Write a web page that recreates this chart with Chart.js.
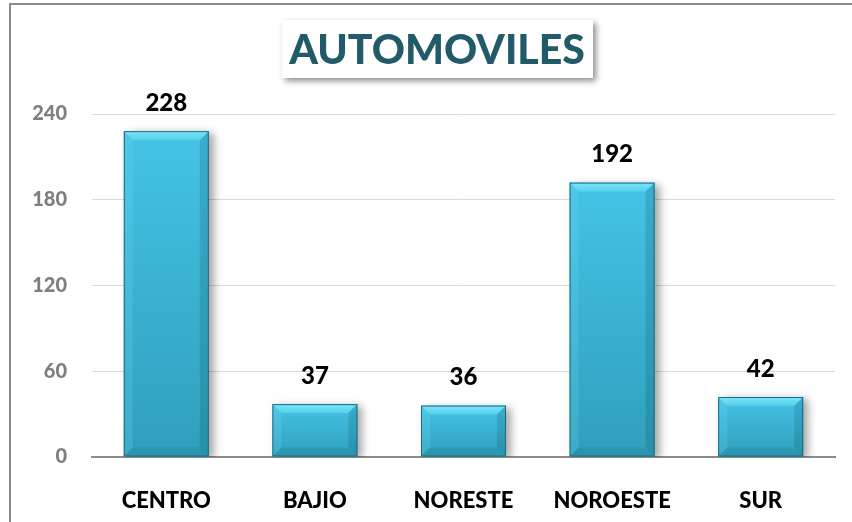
<!DOCTYPE html>
<html>
<head>
<meta charset="utf-8">
<script src="https://cdn.jsdelivr.net/npm/chart.js@4.4.1/dist/chart.umd.min.js"></script>
<style>
  html, body { margin: 0; padding: 0; background: #fff; }
  #wrap { position: relative; width: 852px; height: 522px; }
  #frame { position: absolute; left: 9px; top: 3px; right: 0; bottom: 0;
    border-left: 2px solid #8a8a8a; border-top: 2px solid #8a8a8a; pointer-events: none; }
</style>
</head>
<body>
<div id="wrap">
  <canvas id="autos" width="852" height="522"></canvas>
  <div id="frame"></div>
</div>
<script>
// datos
var regiones = ["CENTRO", "BAJIO", "NORESTE", "NOROESTE", "SUR"];
var automoviles = [228, 37, 36, 192, 42];
var y_ticks = [0, 60, 120, 180, 240];
var titulo = "AUTOMOVILES";

var font_fam = "Lato, 'Open Sans', sans-serif";

// gradient per bar, from its top to the base
function bar_color(c) {
  var chart = c.chart;
  if (!chart.chartArea || c.parsed == null) return "#3bb7da";
  var y = chart.scales.y;
  var top = y.getPixelForValue(c.parsed.y);
  var base = y.getPixelForValue(0);
  var g = chart.ctx.createLinearGradient(0, top, 0, base);
  g.addColorStop(0, "#45c3e6");
  g.addColorStop(1, "#2f9fbb");
  return g;
}

// title box with shadow
var title_box = {
  id: "title_box",
  afterDraw: function (chart) {
    var ctx = chart.ctx;
    ctx.save();
    ctx.shadowColor = "rgba(0,0,0,0.45)";
    ctx.shadowBlur = 6;
    ctx.shadowOffsetX = 3;
    ctx.shadowOffsetY = 3;
    ctx.fillStyle = "#fff";
    ctx.fillRect(282, 20, 311, 58);
    ctx.restore();
    ctx.save();
    ctx.fillStyle = "#215a69";
    ctx.font = "900 41px " + font_fam;
    ctx.textAlign = "center";
    ctx.textBaseline = "middle";
    ctx.fillText(titulo, 437, 51);
    ctx.restore();
  }
};

// shadow + bevel on bars, values on top
var bar_fx = {
  id: "bar_fx",
  beforeDatasetDraw: function (chart) {
    var ctx = chart.ctx;
    ctx.save();
    ctx.shadowColor = "rgba(0,0,0,0.35)";
    ctx.shadowBlur = 8;
    ctx.shadowOffsetX = 5;
    ctx.shadowOffsetY = 2;
  },
  afterDatasetDraw: function (chart) {
    var ctx = chart.ctx;
    ctx.restore();
    var meta = chart.getDatasetMeta(0);
    meta.data.forEach(function (bar, i) {
      var l = bar.x - bar.width / 2, r = bar.x + bar.width / 2;
      var t = bar.y, b = bar.base;
      var bv = 9;
      ctx.save();
      // top bevel
      var tg = ctx.createLinearGradient(0, t, 0, t + bv);
      tg.addColorStop(0, "#7ae6f8");
      tg.addColorStop(1, "#55cfee");
      ctx.fillStyle = tg;
      ctx.beginPath();
      ctx.moveTo(l, t); ctx.lineTo(r, t); ctx.lineTo(r - bv, t + bv); ctx.lineTo(l + bv, t + bv);
      ctx.closePath(); ctx.fill();
      // left bevel
      ctx.fillStyle = "rgba(120,225,245,0.2)";
      ctx.beginPath();
      ctx.moveTo(l, t); ctx.lineTo(l + bv, t + bv); ctx.lineTo(l + bv, b - bv); ctx.lineTo(l, b);
      ctx.closePath(); ctx.fill();
      // right bevel
      ctx.fillStyle = "rgba(10,70,90,0.18)";
      ctx.beginPath();
      ctx.moveTo(r, t); ctx.lineTo(r - bv, t + bv); ctx.lineTo(r - bv, b - bv); ctx.lineTo(r, b);
      ctx.closePath(); ctx.fill();
      // bottom bevel
      ctx.fillStyle = "rgba(10,70,90,0.12)";
      ctx.beginPath();
      ctx.moveTo(l, b); ctx.lineTo(l + bv, b - bv); ctx.lineTo(r - bv, b - bv); ctx.lineTo(r, b);
      ctx.closePath(); ctx.fill();
      // outline
      ctx.strokeStyle = "#1c6a80";
      ctx.lineWidth = 1;
      ctx.strokeRect(l + 0.5, t + 0.5, bar.width - 1, b - t - 1);
      // value
      ctx.fillStyle = "#000";
      ctx.font = "900 24px " + font_fam;
      ctx.textAlign = "center";
      ctx.textBaseline = "middle";
      ctx.fillText(automoviles[i], bar.x, t - 28);
      ctx.restore();
    });
  }
};

var ctx = document.getElementById("autos").getContext("2d");
var chart = new Chart(ctx, {
  type: "bar",
  data: {
    labels: regiones,
    datasets: [{
      data: automoviles,
      backgroundColor: bar_color,
      borderWidth: 0,
      barPercentage: 0.572,
      categoryPercentage: 1.0,
    }]
  },
  options: {
    responsive: false,
    animation: false,
    events: [],
    layout: {
      padding: { top: 114, right: 17, left: 0, bottom: 0 }
    },
    scales: {
      x: {
        grid: { display: false },
        border: { display: true, color: "#8c8c8c", width: 2 },
        ticks: {
          color: "#000",
          padding: 23,
          font: { family: font_fam, size: 22, weight: "900" },
        },
        afterFit: function (s) { s.height = 65; }
      },
      y: {
        min: 0,
        max: 240,
        afterBuildTicks: function (s) {
          s.ticks = y_ticks.map(function (v) { return { value: v }; });
        },
        grid: { color: "#d9d9d9", lineWidth: 1, drawTicks: false },
        border: { display: false },
        ticks: {
          color: "#7f7f7f",
          padding: 25,
          font: { family: font_fam, size: 20, weight: "900" },
        },
        afterFit: function (s) { s.width = 92; }
      }
    },
    plugins: {
      legend: { display: false },
      tooltip: { enabled: false },
    },
  },
  plugins: [title_box, bar_fx]
});
</script>
</body>
</html>
